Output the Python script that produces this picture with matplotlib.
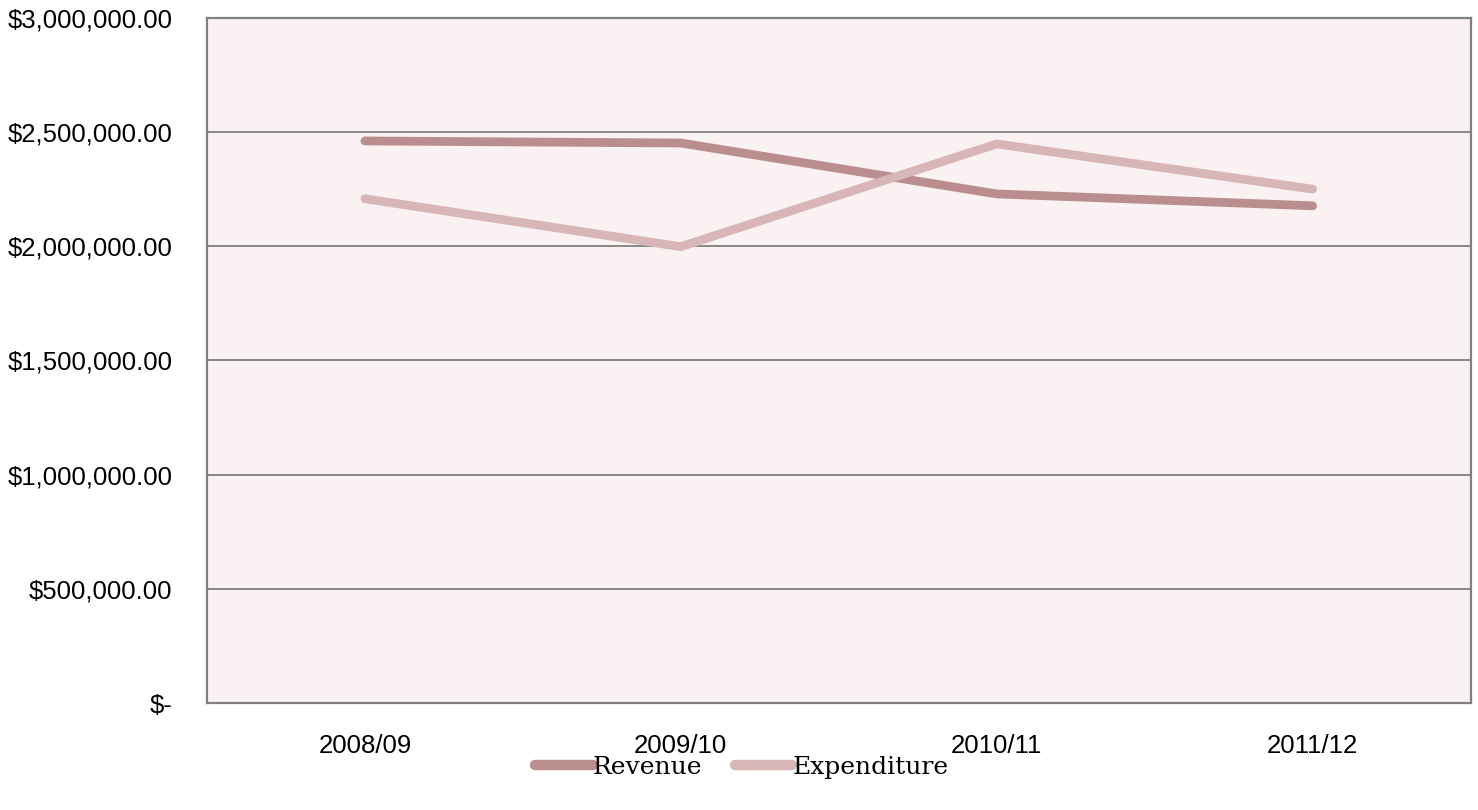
import matplotlib.pyplot as plt
from matplotlib.ticker import FuncFormatter

# Annual totals per financial year
years = ["2008/09", "2009/10", "2010/11", "2011/12"]
revenue = [2461000, 2452000, 2229000, 2177000]
expenditure = [2208000, 1998000, 2448000, 2250000]

REV_COLOR = "#BA8E8E"
EXP_COLOR = "#D8B5B6"
GRID_COLOR = "#808080"


def money(v, pos):
    if v == 0:
        return "$-"
    return f"${v:,.2f}"


fig = plt.figure(figsize=(14.78, 8.10), dpi=100)
ax = fig.add_axes([0.140, 0.132, 0.855, 0.846])
ax.set_facecolor("#FAF1F2")

x = range(len(years))
ax.plot(x, revenue, color=REV_COLOR, linewidth=6.3, solid_capstyle="round",
        solid_joinstyle="miter", label="Revenue", zorder=3)
ax.plot(x, expenditure, color=EXP_COLOR, linewidth=6.3, solid_capstyle="round",
        solid_joinstyle="miter", label="Expenditure", zorder=3)

ax.set_xlim(-0.5, len(years) - 0.5)
ax.set_ylim(0, 3000000)
ax.set_yticks(range(0, 3000001, 500000))
ax.yaxis.set_major_formatter(FuncFormatter(money))
ax.set_xticks(list(x))
ax.set_xticklabels(years)

ax.grid(axis="y", color=GRID_COLOR, linewidth=1.3, zorder=1)
ax.set_axisbelow(True)
for side in ax.spines.values():
    side.set_color(GRID_COLOR)
    side.set_linewidth(1.6)

ax.tick_params(axis="both", length=0, labelsize=18.5)
ax.tick_params(axis="y", pad=25)
ax.tick_params(axis="x", pad=22)
for lbl in ax.get_xticklabels() + ax.get_yticklabels():
    lbl.set_fontfamily("Liberation Sans")

leg = fig.legend(loc="center", bbox_to_anchor=(0.502, 0.053), ncol=2, frameon=False,
                 handlelength=2.3, handletextpad=0.0, columnspacing=1.3,
                 prop={"family": "DejaVu Serif", "size": 18})
for h in leg.get_lines():
    h.set_linewidth(7.5)

fig.savefig("out.png", dpi=100)
